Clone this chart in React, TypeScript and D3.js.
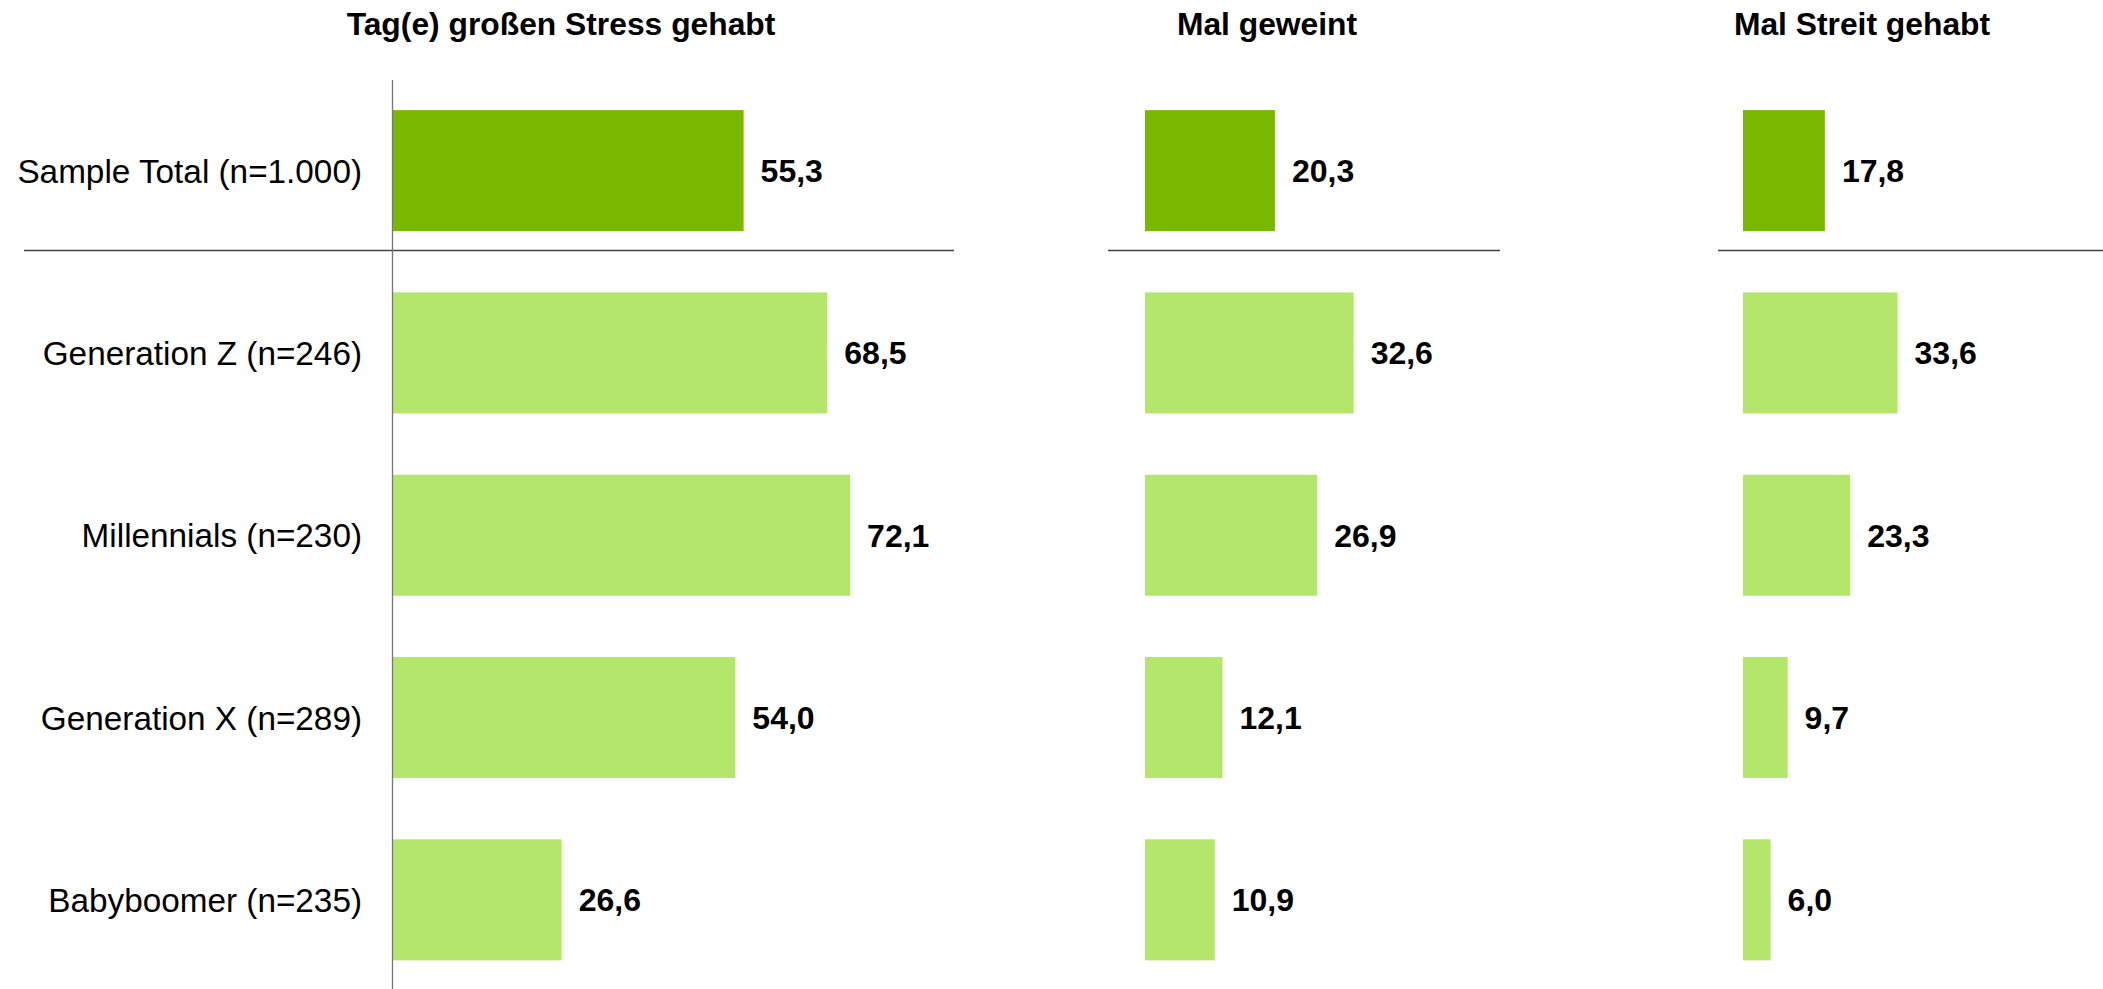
import * as d3 from 'd3'

const categories = [
    'Sample Total (n=1.000)',
    'Generation Z (n=246)',
    'Millennials (n=230)',
    'Generation X (n=289)',
    'Babyboomer (n=235)',
]

const panelTitles = ['Tag(e) großen Stress gehabt', 'Mal geweint', 'Mal Streit gehabt']

const stressValues = [55.3, 68.5, 72.1, 54.0, 26.6]
const cryValues = [20.3, 32.6, 26.9, 12.1, 10.9]
const fightValues = [17.8, 33.6, 23.3, 9.7, 6.0]

const WIDTH = 2103
const HEIGHT = 989
const FONT = '"Liberation Sans", Arial, sans-serif'
const DARK = '#78b800'
const LIGHT = '#b3e66b'

/* per panel layout: left edge of the bars, pixel width for 100, title center, separator extent */
const panels = [
    { values: stressValues, x0: 393, w: 634, titleX: 561, sep: [24, 954], axis: true },
    { values: cryValues, x0: 1145, w: 640, titleX: 1267, sep: [1108, 1500], axis: false },
    { values: fightValues, x0: 1743, w: 460, titleX: 1862, sep: [1718, 2103], axis: false },
]

const fmt = (v: number) => v.toFixed(1).replace('.', ',')

export default function App() {
    const yScale = d3.scaleBand<string>()
        .domain(categories)
        .range([79.5, 991])
        .paddingInner(0.336)
        .paddingOuter(0.168)

    const sepY = 250.5

    return (
        <svg
            width={WIDTH}
            height={HEIGHT}
            style={{ position: 'absolute', left: 0, top: 0, background: '#fff' }}
        >
            {/* category labels */}
            {categories.map((c) => (
                <text
                    key={c}
                    x={362}
                    y={(yScale(c) ?? 0) + yScale.bandwidth() / 2}
                    dy="0.36em"
                    textAnchor="end"
                    fontFamily={FONT}
                    fontSize={33.3}
                    fill="#000"
                >
                    {c}
                </text>
            ))}

            {panels.map((p, pi) => {
                const xScale = d3.scaleLinear().domain([0, 100]).range([p.x0, p.x0 + p.w])
                return (
                    <g key={pi}>
                        <text
                            x={p.titleX}
                            y={35}
                            textAnchor="middle"
                            fontFamily={FONT}
                            fontWeight="bold"
                            fontSize={31.8}
                            fill="#000"
                        >
                            {panelTitles[pi]}
                        </text>
                        {p.values.map((v, i) => {
                            const y = yScale(categories[i]) ?? 0
                            return (
                                <g key={i}>
                                    <rect
                                        x={xScale(0)}
                                        y={y}
                                        width={xScale(v) - xScale(0)}
                                        height={yScale.bandwidth()}
                                        fill={i === 0 ? DARK : LIGHT}
                                    />
                                    <text
                                        x={xScale(v) + 17}
                                        y={y + yScale.bandwidth() / 2}
                                        dy="0.36em"
                                        fontFamily={FONT}
                                        fontWeight="bold"
                                        fontSize={32}
                                        fill="#000"
                                    >
                                        {fmt(v)}
                                    </text>
                                </g>
                            )
                        })}
                        <line
                            x1={p.sep[0]}
                            x2={p.sep[1]}
                            y1={sepY}
                            y2={sepY}
                            stroke="#444"
                            strokeWidth={1.5}
                        />
                        {p.axis && (
                            <line
                                x1={xScale(0) - 0.5}
                                x2={xScale(0) - 0.5}
                                y1={80}
                                y2={HEIGHT}
                                stroke="#777"
                                strokeWidth={1.3}
                            />
                        )}
                    </g>
                )
            })}
        </svg>
    )
}
